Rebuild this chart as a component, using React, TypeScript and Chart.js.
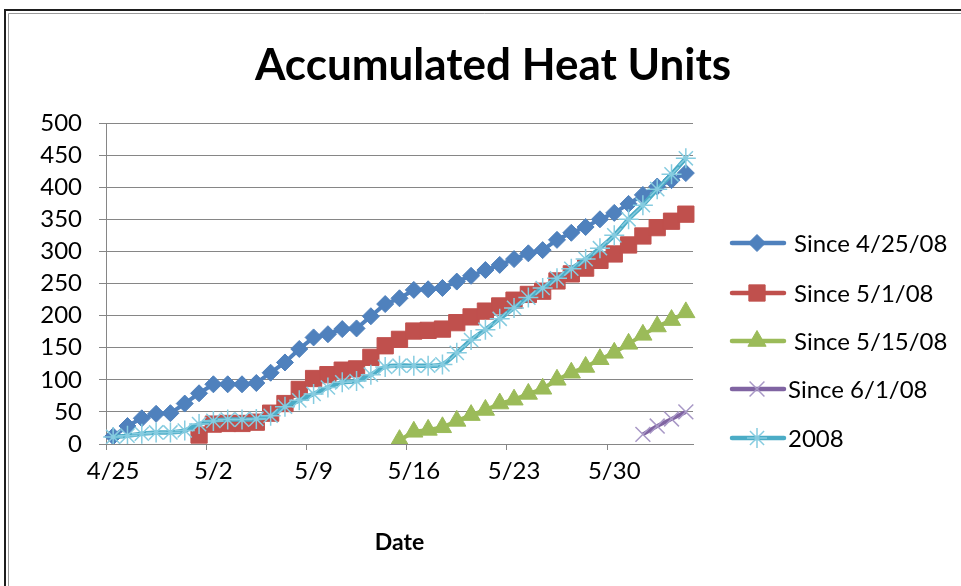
import React, { useEffect, useRef } from 'react';
import { Chart, registerables } from 'chart.js';

Chart.register(...registerables);

const dates = [
  '4/25', '4/26', '4/27', '4/28', '4/29', '4/30',
  '5/1', '5/2', '5/3', '5/4', '5/5', '5/6', '5/7', '5/8', '5/9', '5/10',
  '5/11', '5/12', '5/13', '5/14', '5/15', '5/16', '5/17', '5/18', '5/19', '5/20',
  '5/21', '5/22', '5/23', '5/24', '5/25', '5/26', '5/27', '5/28', '5/29', '5/30', '5/31',
  '6/1', '6/2', '6/3', '6/4',
];
const weeklyTicks = ['4/25', '5/2', '5/9', '5/16', '5/23', '5/30'];

const since0425 = [
  12, 28, 40, 47, 48, 63, 79, 93, 93, 93, 95, 111, 127, 148, 166, 171, 179, 180, 199, 218,
  227, 240, 241, 243, 253, 262, 271, 279, 288, 297, 302, 318, 329, 338, 350, 360, 374, 388, 401, 411, 422,
];
const since0501 = [
  null, null, null, null, null, null,
  14, 31, 32, 32, 34, 48, 63, 85, 102, 108, 115, 117, 135, 153, 163, 176, 177, 179, 189, 198,
  207, 215, 224, 233, 238, 254, 265, 274, 286, 296, 310, 324, 337, 347, 358,
];
const since0515 = [
  null, null, null, null, null, null, null, null, null, null,
  null, null, null, null, null, null, null, null, null, null,
  6, 19, 22, 26, 36, 45, 53, 63, 69, 78, 86, 100, 111, 120, 132, 142, 156, 170, 183, 193, 205,
];
const since0601 = [
  null, null, null, null, null, null, null, null, null, null,
  null, null, null, null, null, null, null, null, null, null,
  null, null, null, null, null, null, null, null, null, null,
  null, null, null, null, null, null, null,
  15, 28, 39, 50,
];
const season2008 = [
  11, 13, 16, 18, 18, 21, 31, 36, 38, 38, 39, 44, 58, 68, 78, 88, 96, 98, 108, 120,
  122, 122, 122, 124, 142, 162, 178, 195, 212, 228, 243, 258, 273, 288, 305, 325, 350, 372, 397, 420, 445,
];

const seriesNames = ['Since 4/25/08', 'Since 5/1/08', 'Since 5/15/08', 'Since 6/1/08', '2008'];
const titleText = 'Accumulated Heat Units';
const xTitleText = 'Date';

const FONT = 'Lato, "Open Sans", sans-serif';

type MarkerSpec = { style: string; r: number; fill: string; stroke: string; lw: number };

function drawMarker(ctx: CanvasRenderingContext2D, m: MarkerSpec, x: number, y: number) {
  ctx.save();
  ctx.beginPath();
  ctx.fillStyle = m.fill;
  ctx.strokeStyle = m.stroke;
  ctx.lineWidth = m.lw;
  const r = m.r;
  if (m.style === 'rectRot') {
    ctx.moveTo(x - r, y);
    ctx.lineTo(x, y - r);
    ctx.lineTo(x + r, y);
    ctx.lineTo(x, y + r);
    ctx.closePath();
    ctx.fill();
    ctx.stroke();
  } else if (m.style === 'rect') {
    const s = Math.SQRT1_2 * r;
    ctx.rect(x - s, y - s, 2 * s, 2 * s);
    ctx.fill();
    ctx.stroke();
  } else if (m.style === 'triangle') {
    let a = 0;
    ctx.moveTo(x + Math.sin(a) * r, y - Math.cos(a) * r);
    a += (2 * Math.PI) / 3;
    ctx.lineTo(x + Math.sin(a) * r, y - Math.cos(a) * r);
    a += (2 * Math.PI) / 3;
    ctx.lineTo(x + Math.sin(a) * r, y - Math.cos(a) * r);
    ctx.closePath();
    ctx.fill();
    ctx.stroke();
  } else if (m.style === 'crossRot') {
    const d = Math.SQRT1_2 * r;
    ctx.moveTo(x - d, y - d);
    ctx.lineTo(x + d, y + d);
    ctx.moveTo(x - d, y + d);
    ctx.lineTo(x + d, y - d);
    ctx.stroke();
  } else if (m.style === 'star') {
    const d = Math.SQRT1_2 * r;
    ctx.moveTo(x, y - r);
    ctx.lineTo(x, y + r);
    ctx.moveTo(x - r, y);
    ctx.lineTo(x + r, y);
    ctx.moveTo(x - d, y - d);
    ctx.lineTo(x + d, y + d);
    ctx.moveTo(x - d, y + d);
    ctx.lineTo(x + d, y - d);
    ctx.stroke();
  }
  ctx.restore();
}

const lineColors = ['#4F81BD', '#C0504D', '#9BBB59', '#8064A2', '#4BACC6'];
const markers: MarkerSpec[] = [
  { style: 'rectRot', r: 8.5, fill: '#4F81BD', stroke: '#4F81BD', lw: 1 },
  { style: 'rect', r: 11.5, fill: '#C0504D', stroke: '#C0504D', lw: 1 },
  { style: 'triangle', r: 10.5, fill: '#9BBB59', stroke: '#9BBB59', lw: 1 },
  { style: 'crossRot', r: 10.5, fill: 'rgba(0,0,0,0)', stroke: '#A898C6', lw: 1.5 },
  { style: 'star', r: 10, fill: 'rgba(0,0,0,0)', stroke: '#86CCE0', lw: 1.5 },
];

const decorPlugin = {
  id: 'decor',
  beforeDraw(chart: any) {
    const ctx = chart.ctx as CanvasRenderingContext2D;
    ctx.save();
    ctx.fillStyle = '#ffffff';
    ctx.fillRect(0, 0, chart.width, chart.height);
    ctx.restore();
  },
  afterDraw(chart: any) {
    const ctx = chart.ctx as CanvasRenderingContext2D;
    ctx.save();
    // frame
    ctx.strokeStyle = '#1e1e1e';
    ctx.lineWidth = 2;
    ctx.beginPath();
    ctx.moveTo(5, chart.height);
    ctx.lineTo(5, 10);
    ctx.lineTo(chart.width, 10);
    ctx.stroke();
    ctx.strokeStyle = '#9a9a9a';
    ctx.lineWidth = 1;
    ctx.beginPath();
    ctx.moveTo(8.5, chart.height);
    ctx.lineTo(8.5, 13.5);
    ctx.lineTo(chart.width, 13.5);
    ctx.stroke();

    // title
    ctx.fillStyle = '#000';
    ctx.font = `bold 44px ${FONT}`;
    ctx.textAlign = 'center';
    ctx.textBaseline = 'alphabetic';
    ctx.fillText(titleText, 493, 80);

    // legend
    const rows = [243, 293, 341, 389, 438];
    const textX = [794, 794, 794, 788, 788];
    ctx.font = `24px ${FONT}`;
    ctx.textAlign = 'left';
    ctx.textBaseline = 'middle';
    chart.data.datasets.forEach((ds: any, i: number) => {
      const y = rows[i];
      ctx.save();
      ctx.strokeStyle = lineColors[i];
      ctx.lineWidth = 4.5;
      ctx.lineCap = 'round';
      ctx.beginPath();
      ctx.moveTo(732, y);
      ctx.lineTo(784, y);
      ctx.stroke();
      ctx.restore();
      drawMarker(ctx, markers[i], 757, y);
      ctx.fillStyle = '#000';
      ctx.fillText(ds.label, textX[i], y + 1);
    });
    ctx.restore();
  },
};

export default function App() {
  const canvasRef = useRef<HTMLCanvasElement | null>(null);

  useEffect(() => {
    document.body.style.margin = '0';
    const canvas = canvasRef.current;
    if (!canvas) return;
    const seriesData = [since0425, since0501, since0515, since0601, season2008];
    const orders = [5, 4, 3, 2, 1];
    const chart = new Chart(canvas, {
      type: 'line',
      data: {
        labels: dates,
        datasets: seriesData.map((d, i) => ({
          label: seriesNames[i],
          data: d,
          borderColor: lineColors[i],
          backgroundColor: lineColors[i],
          borderWidth: i === 4 ? 4.5 : 4,
          pointStyle: markers[i].style as any,
          pointRadius: markers[i].r,
          pointBackgroundColor: markers[i].fill,
          pointBorderColor: markers[i].stroke,
          pointBorderWidth: markers[i].lw,
          tension: i === 4 ? 0.35 : 0,
          fill: false,
          spanGaps: false,
          order: orders[i],
        })),
      },
      options: {
        responsive: false,
        animation: false,
        events: [],
        layout: { padding: { left: 0, right: 268, top: 123, bottom: 0 } },
        plugins: {
          legend: { display: false },
          title: { display: false },
          tooltip: { enabled: false },
        },
        scales: {
          x: {
            type: 'category',
            offset: true,
            grid: {
              offset: true,
              drawOnChartArea: false,
              drawTicks: true,
              tickLength: 6,
              lineWidth: 1,
              color: (ctx: any) => (typeof ctx.index === 'number' && ctx.index % 7 === 0 ? '#868686' : 'rgba(0,0,0,0)'),
              tickColor: (ctx: any) => (typeof ctx.index === 'number' && ctx.index % 7 === 0 ? '#868686' : 'rgba(0,0,0,0)'),
            },
            border: { display: true, color: '#868686', width: 1 },
            ticks: {
              autoSkip: false,
              maxRotation: 0,
              minRotation: 0,
              padding: 7,
              color: '#000',
              font: { family: FONT, size: 24 },
              callback: (_v: any, i: number) => (weeklyTicks.includes(dates[i]) ? dates[i] : ''),
            },
            title: {
              display: true,
              text: xTitleText,
              color: '#000',
              font: { family: FONT, size: 23, weight: 'bold' },
              padding: { top: 0, bottom: 30 },
            },
            afterFit: (s: any) => {
              s.height = 142;
            },
          },
          y: {
            min: 0,
            max: 500,
            ticks: {
              stepSize: 50,
              padding: 17,
              color: '#000',
              font: { family: FONT, size: 24 },
            },
            grid: { color: '#868686', tickLength: 7, lineWidth: 1 },
            border: { display: true, color: '#868686', width: 1 },
            afterFit: (s: any) => {
              s.width = 106;
            },
          },
        },
      },
      plugins: [decorPlugin],
    } as any);
    return () => {
      chart.destroy();
    };
  }, []);

  return (
    <div style={{ width: 961, height: 586 }}>
      <canvas ref={canvasRef} width={961} height={586} style={{ display: 'block' }} />
    </div>
  );
}
